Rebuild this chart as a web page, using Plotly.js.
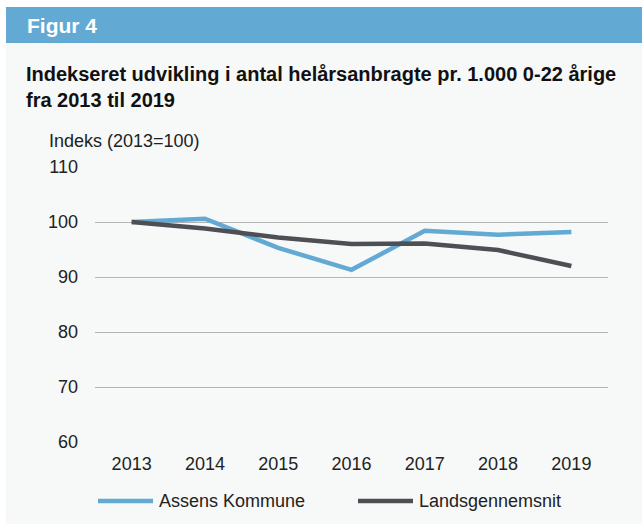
<!DOCTYPE html>
<html>
<head>
<meta charset="utf-8">
<script src="https://cdn.plot.ly/plotly-3.0.1.min.js"></script>
<style>html,body{margin:0;padding:0;background:#fff;}#chart{width:642px;height:524px;}</style>
</head>
<body>
<div id="chart"></div>
<script>
// ---- data ----
const years = ["2013", "2014", "2015", "2016", "2017", "2018", "2019"];
const seriesNames = ["Assens Kommune", "Landsgennemsnit"];
const assens = [100, 100.6, 95.3, 91.3, 98.4, 97.7, 98.2];
const landsgennemsnit = [100, 98.8, 97.2, 96.0, 96.1, 94.9, 92.0];
const yTicks = [60, 70, 80, 90, 100, 110];

const figLabel = "Figur 4";
const titleLines = ["Indekseret udvikling i antal helårsanbragte pr. 1.000 0-22 årige", "fra 2013 til 2019"];
const yAxisLabel = "Indeks (2013=100)";

// ---- style ----
const colors = ["#62a9d4", "#4e4f54"];
const FONT = "Liberation Sans, Arial, Helvetica, sans-serif";
const W = 642, H = 524, L = 95, R = 34, T = 167, B = 82;
const pw = W - L - R, ph = H - T - B;
const px = x => (x - L) / pw;
const py = y => (H - B - y) / ph;

const traces = [assens, landsgennemsnit].map((vals, i) => ({
  type: "scatter", mode: "lines", x: years, y: vals, name: seriesNames[i],
  line: {color: colors[i], width: 4.5}, showlegend: false, hoverinfo: "skip"
}));

const shapes = [
  {type: "rect", xref: "paper", yref: "paper", x0: px(6), x1: px(642), y0: py(524), y1: py(7),
   fillcolor: "#f7f8f8", line: {width: 0}, layer: "below"},
  {type: "rect", xref: "paper", yref: "paper", x0: px(6), x1: px(642), y0: py(43), y1: py(7),
   fillcolor: "#62a9d4", line: {width: 0}, layer: "below"}
];
const legendX = [[98, 153, 158], [358, 413, 418]];
const annotations = [
  {text: "<b>" + figLabel + "</b>", x: px(25), y: py(25), xref: "paper", yref: "paper",
   xanchor: "left", yanchor: "middle", showarrow: false, font: {family: FONT, size: 21, color: "#ffffff"}},
  {text: "<b>" + titleLines[0] + "</b>", x: px(24), y: py(74), xref: "paper", yref: "paper",
   xanchor: "left", yanchor: "middle", showarrow: false, font: {family: FONT, size: 20, color: "#111111"}},
  {text: "<b>" + titleLines[1] + "</b>", x: px(24), y: py(100), xref: "paper", yref: "paper",
   xanchor: "left", yanchor: "middle", showarrow: false, font: {family: FONT, size: 20, color: "#111111"}},
  {text: yAxisLabel, x: px(47), y: py(141), xref: "paper", yref: "paper",
   xanchor: "left", yanchor: "middle", showarrow: false, font: {family: FONT, size: 18, color: "#222222"}}
];
seriesNames.forEach((n, i) => {
  shapes.push({type: "line", xref: "paper", yref: "paper", x0: px(legendX[i][0]), x1: px(legendX[i][1]),
    y0: py(501), y1: py(501), line: {color: colors[i], width: 4.5, cap: "round"}});
  annotations.push({text: n, x: px(legendX[i][2] - 1), y: py(501), xref: "paper", yref: "paper",
    xanchor: "left", yanchor: "middle", showarrow: false, font: {family: FONT, size: 18, color: "#222222"}});
});

const layout = {
  width: W, height: H,
  margin: {l: L, r: R, t: T, b: B, pad: 0},
  paper_bgcolor: "#ffffff", plot_bgcolor: "rgba(0,0,0,0)",
  font: {family: FONT, size: 18, color: "#222222"},
  showlegend: false,
  xaxis: {type: "category", range: [-0.5, 6.5], showgrid: false, zeroline: false, showline: false,
    ticks: "", ticklabelstandoff: 9, tickfont: {family: FONT, size: 18, color: "#222222"}, fixedrange: true},
  yaxis: {range: [60, 110], tickvals: yTicks, showgrid: true, gridcolor: "#b5b5b5", gridwidth: 1,
    zeroline: false, showline: false, ticks: "", ticklabelstandoff: 16,
    tickfont: {family: FONT, size: 18, color: "#222222"}, fixedrange: true},
  shapes: shapes,
  annotations: annotations
};

Plotly.newPlot("chart", traces, layout, {staticPlot: true, displayModeBar: false});
</script>
</body>
</html>
